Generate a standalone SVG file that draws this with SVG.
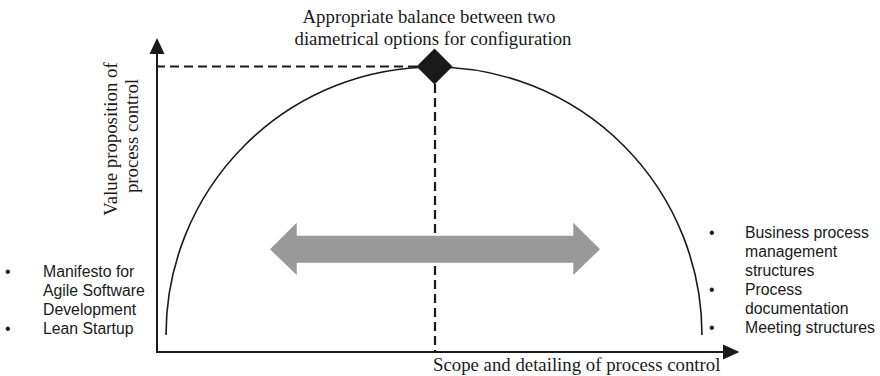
<svg xmlns="http://www.w3.org/2000/svg" width="880" height="376" viewBox="0 0 880 376">
<style>
.serif{font-family:"Liberation Serif","Times New Roman",serif;font-size:18.8px;fill:#1a1a1a}
.sans{font-family:"Liberation Sans",Arial,sans-serif;font-size:15.8px;fill:#1a1a1a}
.axis{stroke:#1a1a1a;stroke-width:2;fill:none}
.dash{stroke:#1a1a1a;stroke-width:2.2;stroke-dasharray:9 5;fill:none}
.arch{stroke:#1a1a1a;stroke-width:1.6;fill:none}
</style>
<rect width="880" height="376" fill="#ffffff"/>
<g id="connectors">
  <line class="axis" x1="157" y1="352" x2="157" y2="52"/>
  <polygon points="157,38 149.5,54 164.5,54" fill="#1a1a1a"/>
  <line class="axis" x1="156" y1="352" x2="725" y2="352"/>
  <polygon points="739.5,352 723,344.5 723,359.5" fill="#1a1a1a"/>
  <line class="dash" x1="156" y1="66.5" x2="418" y2="66.5"/>
  <line class="dash" x1="435" y1="84" x2="435" y2="351"/>
  <path class="arch" d="M166,335 A268,268 0 0 1 702,335"/>
</g>
<g id="balance-point">
  <polygon points="434.5,48.5 452.5,66.5 434.5,84.5 416.5,66.5" fill="#1a1a1a"/>
</g>
<g id="double-arrow">
  <polygon points="270,249.3 296.7,222.7 296.7,235.8 573.3,235.8 573.3,222.7 600,249.3 573.3,275 573.3,262.7 296.7,262.7 296.7,275" fill="#999999"/>
</g>
<g id="title">
  <text class="serif" x="429" y="23" text-anchor="middle">Appropriate balance between two</text>
  <text class="serif" x="433" y="44.5" text-anchor="middle">diametrical options for configuration</text>
</g>
<g id="y-label">
  <text class="serif" transform="translate(117,139) rotate(-90)" text-anchor="middle">Value proposition of</text>
  <text class="serif" transform="translate(138,136) rotate(-90)" text-anchor="middle">process control</text>
</g>
<g id="x-label">
  <text class="serif" x="433" y="371">Scope and detailing of process control</text>
</g>
<g id="left-list">
  <text class="sans" x="5" y="277">•</text>
  <text class="sans" x="43" y="277">Manifesto for</text>
  <text class="sans" x="43" y="296">Agile Software</text>
  <text class="sans" x="43" y="315">Development</text>
  <text class="sans" x="5" y="334">•</text>
  <text class="sans" x="43" y="334">Lean Startup</text>
</g>
<g id="right-list">
  <text class="sans" x="709" y="238">•</text>
  <text class="sans" x="745" y="238">Business process</text>
  <text class="sans" x="745" y="257">management</text>
  <text class="sans" x="745" y="276">structures</text>
  <text class="sans" x="709" y="295">•</text>
  <text class="sans" x="745" y="295">Process</text>
  <text class="sans" x="745" y="314">documentation</text>
  <text class="sans" x="709" y="333">•</text>
  <text class="sans" x="745" y="333">Meeting structures</text>
</g>
</svg>
